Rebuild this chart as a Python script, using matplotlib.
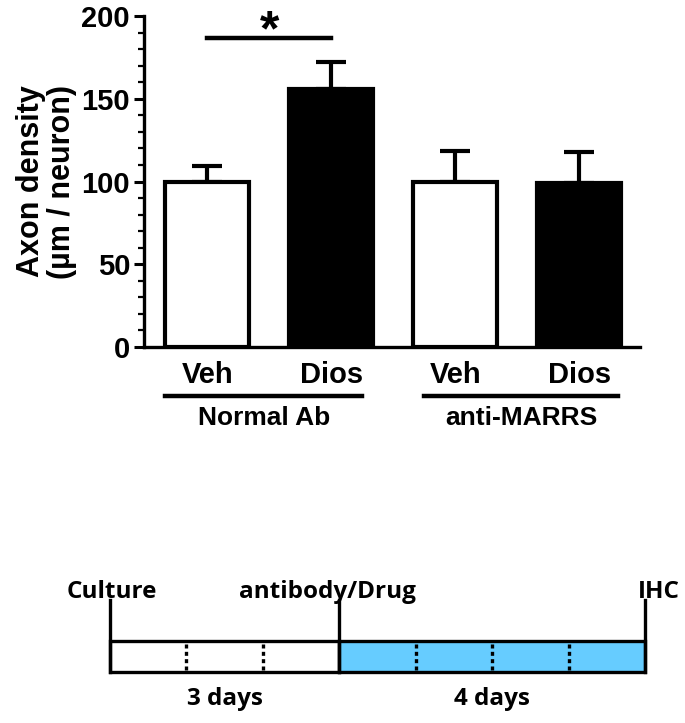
import numpy as np
import matplotlib.pyplot as plt
from matplotlib.patches import Rectangle

# bar chart data
conditions = ["Veh", "Dios", "Veh", "Dios"]
groups = ["Normal Ab", "anti-MARRS"]
means = [100, 156, 100, 99]
errors = [9.5, 16, 18.5, 19]
fill_colors = ["white", "black", "white", "black"]

# timeline data
phase_labels = ["3 days", "4 days"]
phase_days = [3, 4]
phase_colors = ["white", "#66CCFF"]
events = ["Culture", "antibody/Drug", "IHC"]

W, H = 685, 723
fig = plt.figure(figsize=(W / 100, H / 100), dpi=100)

arial = "Liberation Sans"
calibri = "Open Sans"

# ---- bar chart ----
ax = fig.add_axes([144 / W, 1 - 347 / H, 496 / W, 331 / H])
x = np.arange(len(means))
ax.errorbar(x, means, yerr=[np.zeros(len(errors)), errors], fmt="none",
            ecolor="black", elinewidth=3, capsize=11, capthick=3, zorder=1)
ax.bar(x, means, width=0.68, color=fill_colors, edgecolor="black",
       linewidth=3, zorder=2)

ax.set_xlim(-0.51, 3.49)
ax.set_ylim(0, 200)
ax.set_yticks(np.arange(0, 201, 50))
ax.set_yticks(np.arange(0, 201, 10), minor=True)
for s in ("top", "right"):
    ax.spines[s].set_visible(False)
for s in ("left", "bottom"):
    ax.spines[s].set_linewidth(2.4)
ax.tick_params(axis="y", which="major", length=7, width=2.2, pad=3)
ax.tick_params(axis="y", which="minor", length=4, width=1.6)
ax.tick_params(axis="x", length=0, pad=10)
ax.set_xticks(x, conditions)
for lab in ax.get_xticklabels() + ax.get_yticklabels():
    lab.set_fontfamily(arial)
    lab.set_fontweight("bold")
    lab.set_fontsize(21)

ax.set_ylabel("Axon density\n(µm / neuron)", fontsize=22, fontweight="bold",
              family=arial, labelpad=3, linespacing=1.05)

# significance bar
ax.plot([0, 1], [187, 187], color="black", lw=3.2, clip_on=False)
ax.text(0.5, 190, "*", ha="center", va="center", fontsize=36,
        fontweight="bold", family=arial)

# group underlines
tr = ax.get_xaxis_transform()
for (x0, x1), g in zip([(-0.34, 1.25), (1.75, 3.31)], groups):
    ax.plot([x0, x1], [-0.148, -0.148], color="black", lw=3.2,
            transform=tr, clip_on=False)
    ax.text((x0 + x1) / 2, -0.215, g, transform=tr, ha="center", va="center",
            fontsize=19, fontweight="bold", family=arial)

# ---- timeline ----
tl = fig.add_axes([110 / W, 1 - 672 / H, 535 / W, 72 / H])
tl.set_xlim(0, sum(phase_days))
tl.set_ylim(0, 72)
tl.axis("off")
box_h = 31
start = 0
for days, col, lab in zip(phase_days, phase_colors, phase_labels):
    tl.add_patch(Rectangle((start, 0), days, box_h, facecolor=col,
                           edgecolor="black", lw=2.4, clip_on=False))
    for d in range(1, days):
        tl.plot([start + d, start + d], [2, box_h - 2], color="black",
                lw=2.4, ls=(0, (1.2, 1.0)))
    tl.text(start + days / 2, -27, lab, ha="center", va="center",
            fontsize=17.5, fontweight="bold", family=calibri)
    start += days

ev_x = np.cumsum([0] + phase_days)
ha_list = ["center", "center", "right"]
offsets = [0.02, -0.16, 0.45]
for ex, ev, ha, off in zip(ev_x, events, ha_list, offsets):
    tl.plot([ex, ex], [0, 72], color="black", lw=2.4, clip_on=False)
    tl.text(ex + off, 68, ev, ha=ha, va="bottom", fontsize=17.5,
            fontweight="bold", family=calibri)

fig.savefig("out.png", dpi=100)
